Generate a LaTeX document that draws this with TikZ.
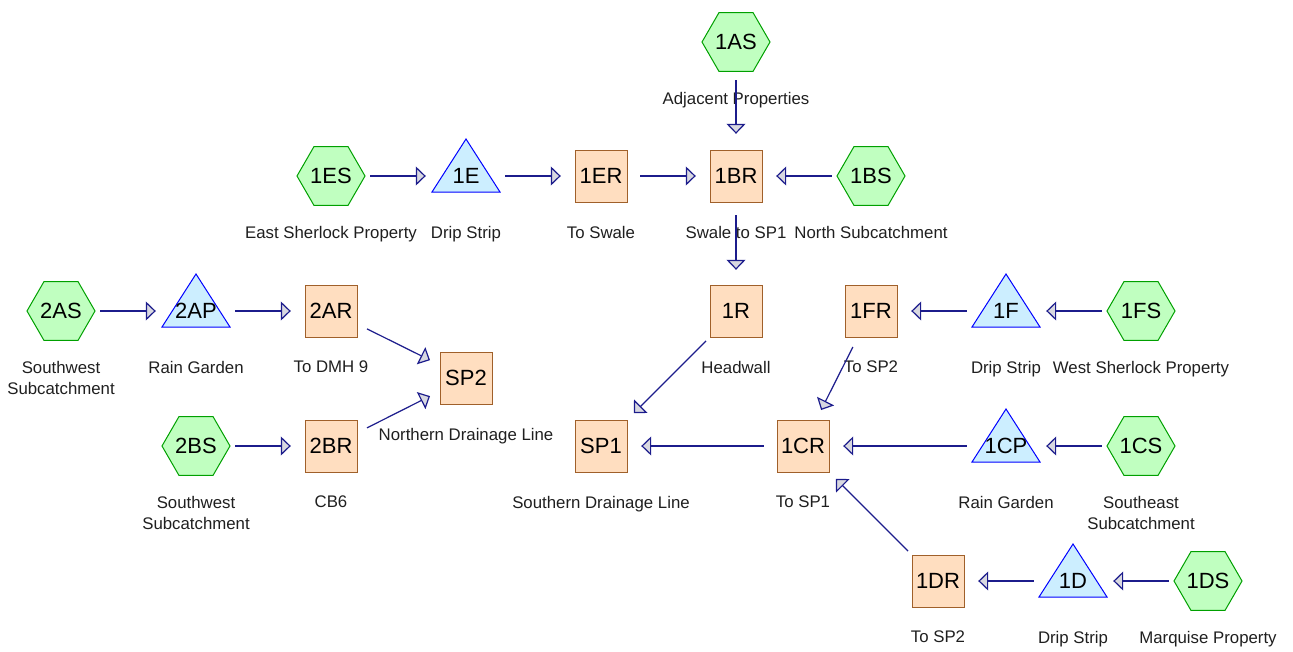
\documentclass[tikz,border=0pt]{standalone}
\usepackage{fontspec}
\setmainfont{Liberation Sans}
\usetikzlibrary{arrows.meta,shapes.geometric,calc}
\definecolor{hexfill}{HTML}{C0FFC0}
\definecolor{hexline}{HTML}{00A000}
\definecolor{trifill}{HTML}{CCEEFF}
\definecolor{triline}{HTML}{0000FF}
\definecolor{sqfill}{HTML}{FFDEC0}
\definecolor{sqline}{HTML}{A0602A}
\definecolor{link}{HTML}{1C1C8C}
\definecolor{tipfill}{HTML}{D8D8E0}
\tikzset{
  box/.style={minimum width=68pt,minimum height=68pt,inner sep=0pt,font=\fontsize{22}{22}\selectfont},
  hexa/.style={regular polygon,regular polygon sides=6,minimum size=68pt,inner sep=0pt,draw=hexline,fill=hexfill,line width=1pt},
  trishape/.style={draw=triline,fill=trifill,line width=1pt,line join=miter},
  sqshape/.style={draw=sqline,fill=sqfill,line width=1pt,minimum width=52pt,minimum height=52pt,inner sep=0pt},
  lab/.style={anchor=north,inner sep=0pt,align=center,text=black!88,font=\fontsize{16.8}{21}\selectfont},
  conn/.style={draw=link,line width=1.2pt,-{Triangle[width=19pt,length=10pt,fill=tipfill]},shorten >=6pt,shorten <=5pt}
}
\newcommand\hexnode[4]{\node[hexa] (#1s) at (#2) {};\node[box] (#1) at (#2) {#3};\node[lab] (#1l) at ($(#2)+(0,50)$) {#4};}
\newcommand\trinode[4]{\draw[trishape] (#2) ++(-34,16) -- ++(68,0) -- ++(-34,-53) -- cycle;\node[box] (#1) at (#2) {#3};\node[lab] (#1l) at ($(#2)+(0,50)$) {#4};}
\newcommand\sqnode[4]{\node[sqshape] (#1s) at (#2) {};\node[box] (#1) at (#2) {#3};\node[lab] (#1l) at ($(#2)+(0,50)$) {#4};}
\begin{document}
\begin{tikzpicture}[x=1pt,y=-1pt]
\useasboundingbox (0,0) rectangle (1293,651);
% hexagons
\hexnode{1AS}{736,42}{1AS}{Adjacent Properties}
\hexnode{1ES}{331,176}{1ES}{East Sherlock Property}
\hexnode{1BS}{871,176}{1BS}{North Subcatchment}
\hexnode{2AS}{61,311}{2AS}{Southwest\\Subcatchment}
\hexnode{1FS}{1141,311}{1FS}{West Sherlock Property}
\hexnode{2BS}{196,446}{2BS}{Southwest\\Subcatchment}
\hexnode{1CS}{1141,446}{1CS}{Southeast\\Subcatchment}
\hexnode{1DS}{1208,581}{1DS}{Marquise Property}
% triangles
\trinode{1E}{466,176}{1E}{Drip Strip}
\trinode{2AP}{196,311}{2AP}{Rain Garden}
\trinode{1F}{1006,311}{1F}{Drip Strip}
\trinode{1CP}{1006,446}{1CP}{Rain Garden}
\trinode{1D}{1073,581}{1D}{Drip Strip}
% squares
\sqnode{1ER}{601,176}{1ER}{To Swale}
\sqnode{1BR}{736,176}{1BR}{Swale to SP1}
\sqnode{2AR}{331,311}{2AR}{To DMH 9}
\sqnode{1R}{736,311}{1R}{Headwall}
\sqnode{1FR}{871,311}{1FR}{To SP2}
\sqnode{SP2}{466,378}{SP2}{Northern Drainage Line}
\sqnode{2BR}{331,446}{2BR}{CB6}
\sqnode{SP1}{601,446}{SP1}{Southern Drainage Line}
\sqnode{1CR}{803,446}{1CR}{To SP1}
\sqnode{1DR}{938,581}{1DR}{To SP2}
% connectors
\draw[conn] (1ES) -- (1E);
\draw[conn] (1E) -- (1ER);
\draw[conn] (1ER) -- (1BR);
\draw[conn] (1BS) -- (1BR);
\draw[conn,shorten <=4pt,shorten >=8pt] (1AS) -- (1BR);
\draw[conn,shorten >=7pt] (1BR) -- (1R);
\draw[conn] (2AS) -- (2AP);
\draw[conn] (2AP) -- (2AR);
\draw[conn,shorten >=2pt,shorten <=2pt] (2AR) -- (SP2);
\draw[conn,shorten >=2pt,shorten <=2pt] (2BR) -- (SP2);
\draw[conn] (2BS) -- (2BR);
\draw[conn,shorten <=-6pt,shorten >=-2pt] (1R) -- (SP1);
\draw[conn,shorten <=2pt,shorten >=2pt] (1FR) -- (1CR);
\draw[conn] (1F) -- (1FR);
\draw[conn] (1FS) -- (1F);
\draw[conn] (1CR) -- (SP1);
\draw[conn] (1CP) -- (1CR);
\draw[conn] (1CS) -- (1CP);
\draw[conn,shorten <=-6pt,shorten >=-2pt] (1DR) -- (1CR);
\draw[conn] (1D) -- (1DR);
\draw[conn] (1DS) -- (1D);
\end{tikzpicture}
\end{document}
